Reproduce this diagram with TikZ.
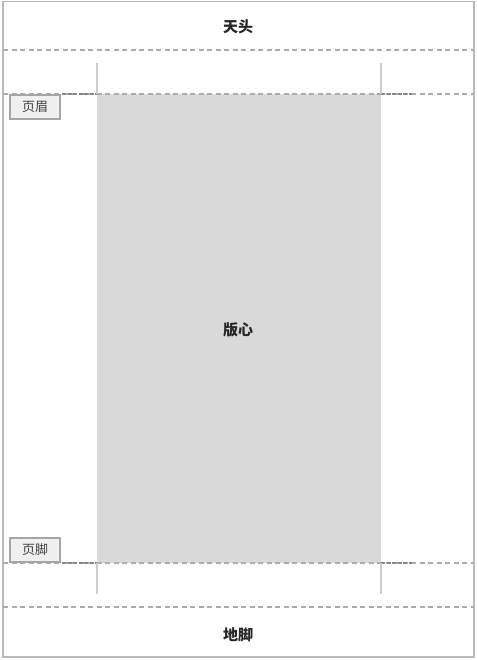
\documentclass[tikz,border=0pt]{standalone}
\usepackage{fontspec}
\newfontfamily\cjk{Noto Sans CJK SC}
\usetikzlibrary{positioning}

\tikzset{
  margine/.style={gray!65, line width=2.6pt, dash pattern=on 5pt off 3.5pt},
  rifilo/.style={gray!95, line width=2.4pt, dash pattern=on 4pt off 1.5pt},
  segno/.style={gray!40, line width=1.8pt},
  etichetta/.style={font=\cjk\bfseries\fontsize{15}{17}\selectfont, text=black!85},
  casella/.style={draw=gray!70, fill=gray!12, line width=1.8pt, minimum width=50pt,
    minimum height=24pt, inner sep=0pt, font=\cjk\fontsize{13}{15}\selectfont, text=black!75}
}

\begin{document}
\begin{tikzpicture}[x=1pt, y=-1pt]
    \useasboundingbox (0,0) rectangle (476,660);

    % Pagina
    \draw[gray!55, line width=1.8pt] (3,1.5) rectangle (474,657);

    % Area del testo
    \fill[gray!30] (97,94) rectangle (381,563);

    % Margini
    \foreach \y in {50, 94, 563, 607}{
        \draw[margine] (3,\y) -- (474,\y);
    }
    \foreach \y in {94, 563}{
        \draw[rifilo] (62,\y) -- (97,\y);
        \draw[rifilo] (381,\y) -- (412,\y);
    }

    % Segni di taglio
    \foreach \x in {97, 381}{
        \draw[segno] (\x,63) -- (\x,94);
        \draw[segno] (\x,563) -- (\x,594);
    }

    % Etichette
    \node[etichetta] (tiantou) at (238,27) {天头};
    \node[etichetta] (banxin) at (238,330) {版心};
    \node[etichetta] (dijiao) at (238,635) {地脚};
    \node[casella] (yemei) at (35,107) {页眉};
    \node[casella] (yejiao) at (35,550) {页脚};
\end{tikzpicture}
\end{document}
